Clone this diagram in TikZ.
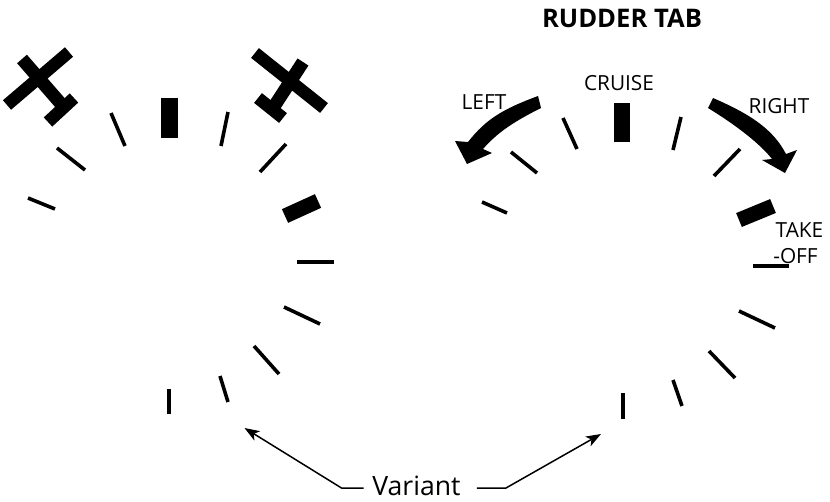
\documentclass[tikz,border=0pt]{standalone}
\usepackage{fontspec}
\setmainfont{Open Sans}
\usetikzlibrary{arrows.meta}
\tikzset{
  tick/.style={line width=3.6pt},
  bigtick/.style={line width=15pt},
  plane/.style={line width=12.5pt},
  lab/.style={inner sep=0pt,font=\fontsize{20.8}{20.8}\selectfont},
  varline/.style={line width=1.5pt,-{Stealth[length=15pt,width=11pt,inset=4pt]}}
}
\begin{document}
\begin{tikzpicture}[x=1pt,y=-1pt]
\useasboundingbox (0,0) rectangle (830,501);
% left dial
\draw[tick] (28,198) -- (55,209);
\draw[tick] (57,148) -- (85,170);
\draw[tick] (111,113) -- (125,146);
\draw[line width=17pt] (169.5,98) -- (169.5,138);
\draw[tick] (228,112) -- (221,146);
\draw[tick] (286,144) -- (260,172);
\draw[bigtick] (285,216) -- (318,201);
\draw[tick] (297,262) -- (334,262);
\draw[tick] (284,307) -- (320,324);
\draw[tick] (254,346) -- (279,374);
\draw[tick] (220,376) -- (228,402);
\draw[tick] (169,389) -- (169,414);
% left plane
\draw[plane] (7,105) -- (69,52);
\draw[plane,line width=13pt] (22,59) -- (62,105);
\draw[plane] (48,122) -- (74,98);
% right plane
\draw[plane] (255,53) -- (324,108);
\draw[plane,line width=13pt] (303,62) -- (275,105);
\draw[plane] (258,98) -- (283,118);
% right dial
\draw[tick] (482,202) -- (507,213);
\draw[tick] (511,152) -- (537,173);
\draw[tick] (563,118) -- (577,149);
\draw[line width=16pt] (622,103) -- (622,142);
\draw[tick] (681,117) -- (673,150);
\draw[tick] (740,149) -- (714,176);
\draw[bigtick] (739,220) -- (773,206);
\draw[tick] (753,266) -- (789,266);
\draw[tick] (739,311) -- (775,328);
\draw[tick] (709,351) -- (735,378);
\draw[tick] (673,380) -- (682,406);
\draw[tick] (623,393) -- (623,419);
% turn arrows
\fill (538,96) .. controls (503,109) and (486,119) .. (468,142) -- (455,141) -- (467,164)
  -- (492,153) -- (483,149) .. controls (497,133) and (513,122) .. (541,108) -- cycle;
\fill (713,98) .. controls (750,114) and (773,129) .. (786,154) -- (797,150) -- (785,173)
  -- (762,160) -- (772,159) .. controls (761,145) and (739,127) .. (708,108) -- cycle;
% labels
\node[inner sep=0pt,font=\fontsize{25.6}{25.6}\selectfont\bfseries] (title) at (622,18) {RUDDER TAB};
\node[lab] (cruise) at (619,83) {CRUISE};
\node[lab] (left) at (484,102) {LEFT};
\node[lab] (right) at (779,106) {RIGHT};
\node[lab] (take) at (799.5,230) {TAKE};
\node[lab] (off) at (795.5,256) {-OFF};
\node[inner sep=0pt,font=\fontsize{26.6}{26.6}\selectfont] (variant) at (416.5,485.5) {Variant};
\coordinate (tipleft) at (244.5,428);
\coordinate (tipright) at (601,434);
\coordinate (bendleft) at (341.5,488);
\coordinate (bendright) at (506,488);
\draw[varline] ([xshift=-8.5pt]variant.west |- bendleft) -- (bendleft) -- (tipleft);
\draw[varline] ([xshift=16pt]variant.east |- bendright) -- (bendright) -- (tipright);
\end{tikzpicture}
\end{document}
